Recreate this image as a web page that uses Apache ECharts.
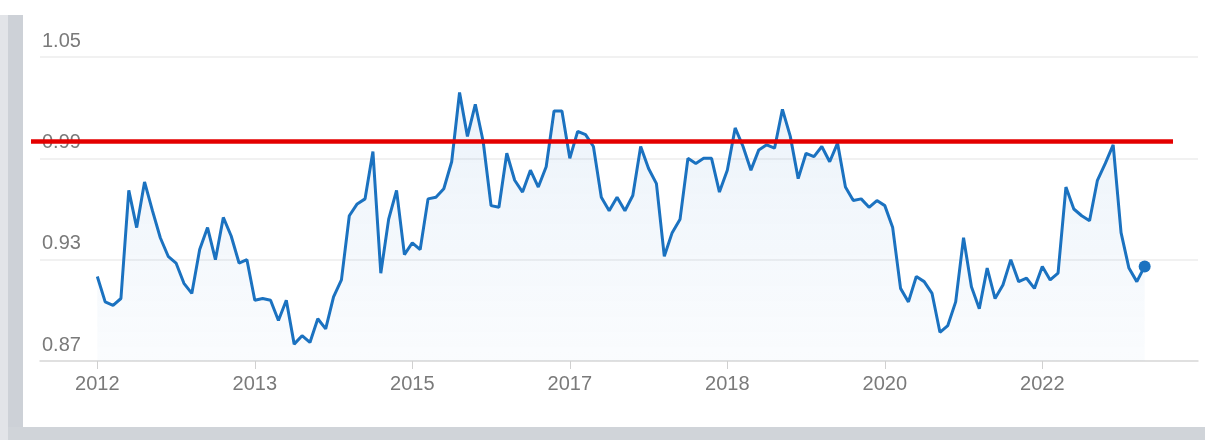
<!DOCTYPE html>
<html><head><meta charset="utf-8">
<script src="https://cdn.jsdelivr.net/npm/echarts@6/dist/echarts.min.js"></script>
<style>
html,body{margin:0;padding:0;background:#fff;}
#wrap{position:relative;width:1205px;height:440px;overflow:hidden;background:#fff;}
.band{position:absolute;}
#chart{position:absolute;left:0;top:0;width:1205px;height:440px;}
</style></head><body>
<div id="wrap">
<div class="band" style="left:0;top:15px;width:8px;height:425px;background:#e2e4e8"></div>
<div class="band" style="left:8px;top:15px;width:15px;height:425px;background:#cdd1d7"></div>
<div class="band" style="left:8px;top:427px;width:1197px;height:13px;background:#d0d4d9"></div>
<div id="chart"></div>
</div>
<script>
// Monthly values, Jan 2012 .. Feb 2023 (index = months since Jan 2012)
const values = [
  0.920,0.905,0.903,0.907,0.971,0.949,0.976,0.959,0.943,0.932,0.928,0.916,
  0.910,0.936,0.949,0.930,0.955,0.944,0.928,0.930,0.906,0.907,0.906,0.894,
  0.906,0.880,0.885,0.881,0.895,0.889,0.908,0.918,0.956,0.963,0.966,0.994,
  0.922,0.954,0.971,0.933,0.940,0.936,0.966,0.967,0.972,0.988,1.029,1.003,
  1.022,1.000,0.962,0.961,0.993,0.977,0.970,0.983,0.973,0.985,1.018,1.018,
  0.990,1.006,1.004,0.997,0.967,0.959,0.967,0.959,0.968,0.997,0.984,0.975,
  0.932,0.946,0.954,0.990,0.987,0.990,0.990,0.970,0.983,1.008,0.997,0.983,
  0.995,0.998,0.996,1.019,1.003,0.978,0.993,0.991,0.997,0.988,0.999,0.973,
  0.965,0.966,0.961,0.965,0.962,0.949,0.913,0.905,0.920,0.917,0.910,0.887,
  0.891,0.905,0.943,0.914,0.901,0.925,0.907,0.915,0.930,0.917,0.919,0.913,
  0.926,0.918,0.922,0.973,0.960,0.956,0.953,0.977,0.987,0.998,0.946,0.925,
  0.917,0.926
];
const tickIndex = [0, 20, 40, 60, 80, 100, 120];
const tickLabels = ['2012', '2013', '2015', '2017', '2018', '2020', '2022'];
const yTicks = [0.87, 0.93, 0.99, 1.05];
const refLevel = 1.00;

const seriesData = values.map((v, i) => [i, v]);
const lastIdx = values.length - 1;

const gridTop = 57, gridBottom = 79;
const plotLeft = 40, plotRight = 1198, firstX = 97.3, pxPerMonth = 7.875;
const xMin = -(firstX - plotLeft) / pxPerMonth;
const xMax = (plotRight - firstX) / pxPerMonth;

const chart = echarts.init(document.getElementById('chart'), null, {renderer: 'canvas'});
chart.setOption({
  animation: false,
  backgroundColor: 'transparent',
  textStyle: {fontFamily: 'Liberation Sans, Arial, sans-serif'},
  grid: [
    {left: plotLeft, right: 1205 - plotRight, top: gridTop, bottom: gridBottom},
    {left: 31, right: 32, top: gridTop, bottom: gridBottom}
  ],
  xAxis: [{
    type: 'value', gridIndex: 0, min: xMin, max: xMax,
    splitLine: {show: false},
    axisLine: {show: true, lineStyle: {color: '#dadada', width: 1.5}},
    axisTick: {show: true, customValues: tickIndex, length: 8, lineStyle: {color: '#d0d0d0'}},
    axisLabel: {
      customValues: tickIndex, margin: 13, color: '#7a7a7a', fontSize: 20,
      formatter: (v) => { const k = tickIndex.indexOf(Math.round(v)); return k >= 0 ? tickLabels[k] : ''; }
    }
  }, {
    type: 'value', gridIndex: 1, min: 0, max: 1, show: false
  }],
  yAxis: [{
    type: 'value', gridIndex: 0, min: yTicks[0], max: yTicks[yTicks.length - 1], interval: 0.06,
    axisLine: {show: false}, axisTick: {show: false},
    splitLine: {lineStyle: {color: '#ececec', width: 1.5}},
    axisLabel: {
      inside: true, margin: 2, verticalAlign: 'bottom', lineHeight: 20,
      padding: [0, 0, 6, 0], color: '#7a7a7a', fontSize: 20,
      formatter: (v) => v.toFixed(2)
    }
  }, {
    type: 'value', gridIndex: 1, min: yTicks[0], max: yTicks[yTicks.length - 1], show: false
  }],
  series: [{
    type: 'line', xAxisIndex: 0, yAxisIndex: 0, data: seriesData,
    symbol: (val, p) => p.dataIndex === lastIdx ? 'circle' : 'none',
    symbolSize: 12,
    itemStyle: {color: '#1b72c0'},
    lineStyle: {color: '#1b72c0', width: 3},
    areaStyle: {
      origin: 'start',
      color: new echarts.graphic.LinearGradient(0, 0, 0, 1, [
        {offset: 0, color: 'rgba(40,120,200,0.13)'},
        {offset: 1, color: 'rgba(40,120,200,0.03)'}
      ])
    },
    z: 3
  }, {
    type: 'line', xAxisIndex: 1, yAxisIndex: 1,
    data: [[0, refLevel], [1, refLevel]],
    symbol: 'none',
    lineStyle: {color: '#e40000', width: 4.5},
    z: 6
  }]
});
</script>
</body></html>
